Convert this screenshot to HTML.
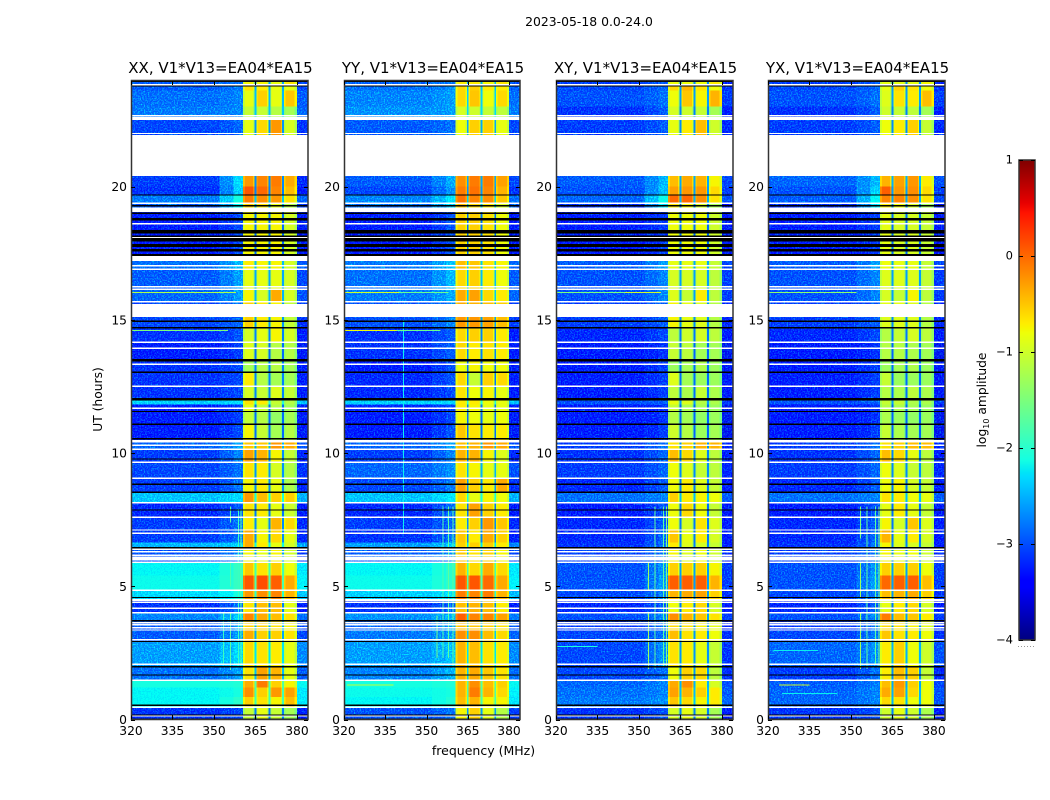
<!DOCTYPE html>
<html lang="en">
<head>
<meta charset="utf-8">
<title>2023-05-18 0.0-24.0</title>
<style>
html,body{margin:0;padding:0;background:#fff;width:1050px;height:800px;overflow:hidden}
svg{display:block}
text{font-family:"DejaVu Sans","Liberation Sans",sans-serif;fill:#000}
</style>
</head>
<body>
<svg id="figure" xmlns="http://www.w3.org/2000/svg" width="1050" height="800" viewBox="0 0 1050 800">
<defs>
<filter id="speckle" x="0" y="0" width="1" height="1" color-interpolation-filters="sRGB">
<feTurbulence type="fractalNoise" baseFrequency="0.7" numOctaves="2" seed="4" result="n"/>
<feColorMatrix in="n" type="matrix" values="0 0 0 0 0 1.3 0 0 0 -0.55 0 0 0 0 0 0 0 0 0 1" result="g"/>
<feComposite in="SourceGraphic" in2="g" operator="arithmetic" k1="0" k2="1" k3="1" k4="0"/>
</filter>
</defs>
<rect x="0" y="0" width="1050" height="800" fill="#fff"/>
<text x="589" y="26" font-size="12.4" text-anchor="middle">2023-05-18 0.0-24.0</text>
<text transform="translate(102,399.5) rotate(-90)" font-size="12.3" text-anchor="middle">UT (hours)</text>
<text x="483.5" y="755" font-size="12.5" text-anchor="middle">frequency (MHz)</text>
<text transform="translate(986,400) rotate(-90)" font-size="12.3" text-anchor="middle">log<tspan font-size="8" dy="3">10</tspan><tspan dy="-3"> amplitude</tspan></text>
<g id="panels"></g>
<g id="colorbar"></g>
</svg>
<script>
// ---- chart data -------------------------------------------------------
const panelTitles = ["XX, V1*V13=EA04*EA15", "YY, V1*V13=EA04*EA15", "XY, V1*V13=EA04*EA15", "YX, V1*V13=EA04*EA15"];
const freqTicks = [320, 335, 350, 365, 380];
const utTicks = [0, 5, 10, 15, 20];
const colorbarTicks = [1, 0, -1, -2, -3, -4];
const colorbarLabels = ["1", "0", "\u22121", "\u22122", "\u22123", "\u22124"];

// time-block boundaries (UT hours)
const utEdges = [0,0.47,0.85,1.2,1.47,1.98,2.93,3.36,3.71,4.0,4.5,4.85,5.4,5.9,6.45,6.65,7.1,7.6,8.13,8.53,9.05,9.65,10.14,10.48,11.08,11.56,11.83,12.06,12.5,13.03,13.45,14.16,14.7,15.1,15.68,16.14,16.9,17.39,19.04,19.37,19.68,20.0,20.4,21.93,22.5,23.0,23.6,23.82,24];
// sub-band edges (MHz): background, near-band, four receiver sub-bands, upper edge
const subBandEdges = [360.5, 365, 370, 375, 380];
const notchFreqs = [365, 370, 375];

// per block log10 amplitude: [background, near-band, sub-band 1, 2, 3, 4]
const levelsXX = [
[-3.0,-2.9,-1.2,-1.0,-1.2,-1.4],[-2.1,-1.9,-0.7,-0.8,-0.9,-0.6],[-2.1,-2.0,-0.35,-0.7,-0.4,-0.45],[-2.0,-1.95,-0.5,-0.25,-0.7,-0.9],
[-2.7,-2.5,-0.8,-0.45,-0.55,-1.0],[-2.5,-2.25,-0.75,-0.8,-0.85,-1.0],[-2.8,-2.5,-0.5,-0.7,-0.7,-0.8],[-2.8,-2.5,-0.7,-0.7,-0.8,-0.9],
[-2.6,-2.3,-0.3,-0.5,-0.6,-0.8],[-3.0,-2.7,-0.8,-0.6,-0.6,-1.0],[-2.25,-2.0,-0.4,-0.35,-0.3,-0.55],[-2.05,-1.85,-0.05,0.0,-0.1,-0.5],
[-2.1,-1.85,-0.65,-0.8,-0.7,-0.95],[-2.85,-2.6,-0.9,-1.0,-0.9,-1.1],[-2.4,-2.3,-0.5,-0.85,-1.0,-1.1],[-2.95,-2.7,-0.5,-0.9,-0.75,-1.0],
[-2.95,-2.7,-0.85,-1.0,-0.55,-0.75],[-3.05,-2.8,-0.8,-0.85,-1.0,-1.15],[-2.35,-2.25,-0.4,-0.6,-0.7,-0.7],[-2.95,-2.7,-0.9,-0.85,-1.0,-1.35],
[-2.9,-2.7,-0.8,-0.85,-1.1,-1.3],[-2.95,-2.6,-0.45,-0.55,-0.9,-1.2],[-2.75,-2.5,-0.65,-0.65,-0.4,-0.5],[-3.1,-2.9,-0.9,-1.2,-1.4,-1.3],
[-3.1,-2.95,-1.2,-1.3,-1.5,-1.4],[-3.1,-2.95,-1.0,-1.2,-1.3,-1.4],[-2.3,-2.25,-0.8,-0.85,-1.2,-1.3],[-3.0,-2.9,-1.1,-1.2,-1.05,-1.2],
[-3.0,-2.9,-0.85,-1.3,-1.4,-1.4],[-3.0,-2.9,-1.4,-1.3,-1.3,-1.4],[-3.1,-2.95,-1.05,-1.1,-1.3,-1.3],[-3.0,-2.85,-1.1,-1.0,-0.9,-1.1],
[-2.9,-2.75,-0.7,-0.85,-0.9,-1.2],[-2.9,-2.7,-0.7,-0.85,-0.9,-1.2],[-2.75,-2.5,-0.9,-1.1,-0.5,-1.1],[-2.8,-2.5,-1.0,-1.0,-1.0,-1.1],
[-2.7,-2.4,-0.85,-0.9,-0.9,-1.1],[-3.1,-2.9,-0.9,-0.9,-0.9,-1.1],[-2.8,-2.1,-0.7,-0.8,-1.0,-1.3],[-2.65,-2.0,-0.25,-0.35,-0.4,-0.8],
[-3.0,-2.3,-0.05,-0.15,-0.3,-0.6],[-2.95,-2.25,-0.4,-0.3,-0.25,-0.5],[-2.95,-2.3,-0.5,-0.5,-0.5,-0.7],[-2.9,-2.75,-1.0,-0.75,-0.4,-1.1],
[-2.65,-2.6,-1.2,-1.2,-1.3,-1.4],[-2.7,-2.6,-1.0,-0.7,-1.0,-0.65],[-2.8,-2.65,-0.8,-0.85,-1.0,-1.0],[-2.8,-2.7,-0.9,-0.9,-1.0,-0.8]
];
const levelsYY = [
[-2.85,-2.7,-0.9,-0.7,-1.0,-1.3],[-2.1,-1.95,-0.6,-0.55,-0.9,-0.9],[-2.05,-2.0,-0.55,-0.25,-0.55,-0.75],[-2.0,-1.95,-0.55,-0.35,-0.6,-0.7],
[-2.6,-2.4,-0.55,-0.5,-0.65,-0.8],[-2.5,-2.35,-0.55,-0.6,-0.8,-0.85],[-2.65,-2.5,-0.35,-0.35,-0.6,-0.75],[-2.75,-2.5,-0.6,-0.65,-0.7,-0.8],
[-2.55,-2.4,-0.1,-0.3,-0.3,-0.45],[-3.0,-2.75,-0.6,-0.55,-0.6,-0.85],[-2.3,-2.2,-0.25,-0.3,-0.25,-0.55],[-2.05,-1.9,-0.05,-0.05,-0.15,-0.5],
[-2.1,-1.9,-0.55,-0.75,-0.5,-0.75],[-2.8,-2.6,-0.65,-0.8,-0.7,-0.9],[-2.5,-2.35,-0.7,-0.7,-0.7,-0.85],[-3.0,-2.7,-0.65,-0.85,-0.5,-0.7],
[-2.95,-2.75,-0.85,-0.7,-0.4,-0.65],[-3.05,-2.7,-0.8,-0.45,-0.7,-0.85],[-2.35,-2.2,-0.75,-1.0,-0.9,-0.95],[-2.9,-2.65,-0.45,-0.7,-0.85,-0.5],
[-2.75,-2.55,-0.8,-0.9,-1.0,-1.0],[-2.95,-2.6,-0.55,-0.55,-0.9,-1.05],[-2.75,-2.5,-0.6,-0.55,-0.4,-0.5],[-3.1,-2.85,-0.65,-0.8,-0.85,-0.85],
[-3.1,-2.9,-0.9,-0.95,-1.0,-0.95],[-3.05,-2.9,-0.85,-0.9,-1.0,-1.0],[-2.3,-2.25,-0.85,-0.85,-0.95,-1.0],[-3.05,-2.9,-0.8,-0.95,-0.9,-1.0],
[-3.05,-2.85,-0.75,-1.2,-0.7,-0.75],[-3.1,-2.85,-0.95,-0.9,-0.95,-0.95],[-3.0,-2.8,-0.75,-0.85,-0.8,-0.85],[-3.0,-2.8,-0.75,-0.7,-0.7,-0.85],
[-2.85,-2.6,-0.4,-0.4,-0.45,-0.6],[-2.85,-2.6,-0.5,-0.55,-0.6,-0.7],[-2.65,-2.45,-0.5,-0.45,-0.75,-0.85],[-2.7,-2.4,-0.75,-0.7,-0.85,-0.95],
[-2.65,-2.35,-0.6,-0.65,-0.8,-0.9],[-3.1,-2.85,-0.7,-0.7,-0.8,-0.95],[-2.7,-2.3,-0.6,-0.75,-0.85,-1.1],[-2.6,-2.2,-0.2,-0.3,-0.35,-0.65],
[-2.9,-2.55,-0.25,-0.2,-0.3,-0.55],[-2.8,-2.45,-0.35,-0.25,-0.25,-0.45],[-2.9,-2.5,-0.5,-0.5,-0.5,-0.7],[-2.8,-2.7,-0.95,-0.7,-0.7,-1.0],
[-2.55,-2.5,-1.1,-1.15,-1.2,-1.25],[-2.6,-2.5,-0.75,-0.65,-0.95,-0.75],[-2.7,-2.55,-0.75,-0.7,-0.85,-0.85],[-2.75,-2.65,-0.85,-0.85,-0.9,-0.8]
];
const levelsXY = [
[-3.0,-2.85,-1.1,-1.0,-1.1,-1.4],[-2.65,-2.55,-0.65,-0.75,-0.9,-0.85],[-2.7,-2.6,-0.45,-0.55,-0.7,-0.85],[-2.75,-2.6,-0.5,-0.35,-0.85,-1.1],
[-2.9,-2.7,-0.95,-0.7,-0.75,-1.25],[-2.9,-2.55,-0.8,-0.85,-1.0,-1.2],[-2.9,-2.7,-0.6,-0.8,-0.85,-0.95],[-2.95,-2.7,-0.75,-0.8,-0.9,-1.0],
[-2.85,-2.6,-0.35,-0.55,-0.65,-0.8],[-3.05,-2.8,-0.95,-0.85,-0.75,-1.1],[-2.9,-2.6,-0.55,-0.5,-0.45,-0.7],[-2.85,-2.5,-0.1,-0.1,-0.1,-0.55],
[-2.85,-2.55,-0.7,-0.7,-0.7,-0.9],[-2.95,-2.7,-0.9,-1.05,-0.95,-1.15],[-3.0,-2.7,-0.85,-1.05,-1.1,-1.2],[-3.05,-2.75,-0.65,-1.0,-0.85,-1.1],
[-3.05,-2.8,-0.95,-1.1,-0.8,-1.05],[-3.1,-2.85,-0.95,-0.75,-0.95,-1.2],[-2.7,-2.6,-0.7,-0.85,-0.9,-0.95],[-3.05,-2.8,-0.95,-0.85,-1.05,-1.2],
[-2.95,-2.75,-0.95,-1.05,-1.2,-1.25],[-3.0,-2.75,-0.6,-0.75,-1.05,-1.25],[-2.95,-2.7,-0.8,-0.7,-0.55,-0.55],[-3.15,-2.95,-1.15,-1.3,-1.45,-1.4],
[-3.15,-3.0,-1.3,-1.4,-1.5,-1.45],[-3.15,-3.0,-1.2,-1.35,-1.4,-1.45],[-2.85,-2.8,-1.0,-1.05,-1.3,-1.35],[-3.1,-2.95,-1.25,-1.35,-1.2,-1.35],
[-3.1,-2.95,-1.05,-1.4,-1.45,-1.45],[-3.1,-2.95,-1.45,-1.4,-1.35,-1.45],[-3.15,-3.0,-1.2,-1.25,-1.4,-1.4],[-3.05,-2.9,-1.25,-1.15,-1.1,-1.25],
[-2.95,-2.8,-0.9,-1.0,-1.05,-1.3],[-2.95,-2.8,-0.9,-1.0,-1.05,-1.3],[-2.85,-2.6,-1.05,-1.2,-0.85,-1.25],[-2.85,-2.6,-1.1,-1.1,-1.1,-1.25],
[-2.8,-2.5,-1.0,-1.0,-1.0,-1.2],[-3.1,-2.95,-0.95,-0.95,-0.95,-1.15],[-3.0,-2.2,-0.8,-0.9,-1.1,-1.4],[-2.75,-2.05,-0.15,-0.15,-0.35,-0.8],
[-2.85,-2.35,-0.45,-0.4,-0.4,-0.75],[-2.8,-2.4,-0.6,-0.5,-0.55,-0.9],[-2.9,-2.5,-0.7,-0.6,-0.6,-0.9],[-2.95,-2.8,-1.0,-0.85,-0.6,-1.15],
[-3.0,-2.8,-1.1,-1.15,-1.2,-1.4],[-2.85,-2.7,-0.95,-0.65,-0.9,-0.55],[-2.9,-2.75,-0.75,-0.55,-0.8,-0.95],[-2.95,-2.8,-0.95,-0.95,-0.95,-0.85]
];
const levelsYX = [
[-3.0,-2.85,-1.15,-1.0,-1.15,-1.35],[-2.75,-2.6,-0.75,-0.8,-0.95,-0.95],[-2.75,-2.6,-0.5,-0.45,-0.75,-0.95],[-2.8,-2.65,-0.6,-0.4,-0.7,-0.95],
[-2.95,-2.7,-0.85,-0.6,-0.7,-1.2],[-2.75,-2.55,-0.85,-0.7,-0.95,-1.15],[-2.9,-2.65,-0.65,-0.8,-0.85,-0.95],[-2.95,-2.7,-0.75,-0.8,-0.9,-1.0],
[-2.85,-2.6,-0.25,-0.6,-0.65,-0.85],[-3.05,-2.8,-1.0,-0.85,-0.75,-1.1],[-2.9,-2.65,-0.6,-0.55,-0.5,-0.7],[-2.85,-2.5,-0.15,-0.1,-0.1,-0.6],
[-2.85,-2.55,-0.7,-0.7,-0.7,-0.95],[-2.95,-2.7,-0.9,-1.0,-0.95,-1.15],[-3.0,-2.7,-0.9,-1.05,-1.1,-1.2],[-3.05,-2.75,-0.55,-1.0,-0.85,-1.1],
[-3.05,-2.8,-0.9,-1.1,-0.65,-1.05],[-3.1,-2.85,-1.0,-0.85,-1.0,-1.2],[-2.7,-2.6,-0.8,-0.85,-0.95,-1.0],[-3.05,-2.8,-0.95,-0.9,-1.1,-1.2],
[-2.95,-2.75,-0.95,-1.05,-1.2,-1.25],[-3.0,-2.75,-0.6,-0.75,-1.0,-1.25],[-2.95,-2.7,-0.8,-0.7,-0.6,-0.6],[-3.15,-2.95,-1.2,-1.35,-1.4,-1.4],
[-3.15,-3.0,-1.35,-1.45,-1.5,-1.45],[-3.15,-3.0,-1.3,-1.35,-1.4,-1.45],[-2.85,-2.8,-1.2,-1.2,-1.35,-1.35],[-3.1,-2.95,-1.3,-1.35,-1.25,-1.35],
[-3.1,-2.95,-1.2,-1.45,-1.45,-1.45],[-3.1,-2.95,-1.45,-1.4,-1.35,-1.45],[-3.15,-3.0,-1.3,-1.3,-1.35,-1.4],[-3.05,-2.9,-1.3,-1.2,-1.1,-1.25],
[-2.95,-2.8,-1.05,-1.05,-1.05,-1.3],[-2.95,-2.8,-1.0,-1.0,-1.05,-1.3],[-2.85,-2.6,-1.1,-1.2,-0.9,-1.25],[-2.85,-2.6,-1.05,-1.05,-1.05,-1.2],
[-2.8,-2.5,-0.95,-1.0,-1.0,-1.2],[-3.1,-2.95,-1.0,-1.1,-1.1,-1.2],[-3.0,-2.2,-0.85,-0.95,-1.1,-1.4],[-2.8,-2.1,-0.3,-0.3,-0.35,-0.8],
[-2.85,-2.3,-0.1,-0.4,-0.35,-0.75],[-2.75,-2.4,-0.55,-0.45,-0.4,-0.85],[-2.9,-2.5,-0.7,-0.6,-0.6,-0.9],[-2.95,-2.8,-0.95,-0.85,-0.7,-1.2],
[-3.0,-2.8,-1.15,-1.2,-1.25,-1.4],[-2.85,-2.7,-1.05,-0.8,-0.85,-0.6],[-2.9,-2.75,-1.0,-0.7,-0.8,-0.95],[-2.95,-2.8,-1.0,-1.0,-1.0,-0.9]
];
const panelLevels = [levelsXX, levelsYY, levelsXY, levelsYX];

// flagged samples, UT hours
const whiteWideUT = [[20.4,21.93],[15.11,15.59],[19.04,19.21],[17.2,17.39],[10.39,10.48],[5.96,6.11],[4.45,4.53]];
const whiteLineUT = [23.82,22.65,22.58,22.52,21.99,19.37,18.6,18.1,17.02,16.89,16.24,16.14,15.68,14.15,13.93,13.33,12.51,11.68,10.29,10.14,9.65,9.05,8.13,7.59,7.11,6.99,6.39,6.29,6.17,5.9,4.85,4.4,4.17,4.0,3.63,3.55,3.44,3.36,2.99,2.07,1.47,0.46,0.13];
const blackBandUT = [[23.92,24],[18.97,19.02],[18.72,18.81],[18.24,18.37],[18.1,18.16],[17.93,18.06],[17.74,17.84],[17.56,17.65],[17.39,17.47],[13.43,13.52],[11.98,12.06],[0.5,0.56],[0,0.04]];
const blackLineUT = [23.77,19.68,19.28,14.95,14.7,13.03,11.56,11.08,10.54,9.78,8.83,8.53,7.86,6.45,4.58,3.71,2.93,1.98,1.67,0.17];

// narrow-band interference: [panel, MHz, UT start, UT end, level]
const rfiColumns = [
[0,355.8,1.85,4.0,-1.7],[0,355.8,5.0,5.9,-1.8],[0,355.8,7.4,8.0,-1.7],[0,353.3,2.1,4.0,-1.9],[0,358.6,2.0,7.9,-1.9],[0,359.6,2.0,7.9,-1.7],
[1,355.9,2.3,8.0,-1.8],[1,353.6,2.3,3.9,-1.6],[1,357.9,2.3,8.0,-1.7],[1,359.4,2.0,8.0,-1.7],[1,341.5,7.0,15.0,-2.2],
[2,353.2,1.9,4.0,-1.3],[2,353.2,4.85,5.9,-1.3],[2,355.7,1.9,8.0,-1.7],[2,358.6,2.0,8.0,-1.7],[2,359.7,2.0,8.0,-1.5],
[3,353.2,1.9,4.0,-1.3],[3,353.2,4.6,5.9,-1.3],[3,353.2,6.8,8.0,-1.5],[3,355.7,1.9,8.0,-1.7],[3,358.7,2.1,8.0,-1.7],[3,360.0,2.0,8.0,-1.5]
];
// broadband rows: [panel, UT, MHz start, MHz end, level]
const rfiRows = [
[0,14.62,320,355,-1.5],[0,16.05,320,358,-1.2],[1,14.62,320,339,-0.8],[1,14.62,339,355,-1.6],[1,16.05,320,340,-1.0],[1,16.05,340,358,-1.6],
[1,1.32,321,338,-1.1],[2,16.05,320,345,-1.5],[2,16.05,345,358,-1.0],[2,2.75,320,335,-2.1],[3,16.05,320,352,-1.4],[3,1.32,324,335,-1.0],[3,1.0,325,345,-2.2],[3,2.6,322,338,-2.2]
];

// ---- axis geometry and scales ------------------------------------------
const panelLefts = [131, 344, 556, 768];
const panelWidths = [177, 176, 177, 177];
const axisTop = 81, axisBottom = 719.5;
const freqMin = 320, freqMax = 384, utMin = 0, utMax = 23.96;
const colorMin = -4, colorMax = 1;
const bandCalibration = 0.15;
const SVGNS = "http://www.w3.org/2000/svg";
const panelsRoot = document.getElementById("panels");

function backgroundLevel(level) { return level - 0.27 + Math.max(0, level + 2.6) * 0.25; }
function xScale(p, f) { return panelLefts[p] + (f - freqMin) / (freqMax - freqMin) * panelWidths[p]; }
function yScale(ut) { return axisBottom - (Math.min(ut, utMax) - utMin) / (utMax - utMin) * (axisBottom - axisTop); }
function channel(v, pts) {
  for (let i = 1; i < pts.length; i++) {
    if (v <= pts[i][0]) {
      const t = (v - pts[i-1][0]) / (pts[i][0] - pts[i-1][0]);
      return pts[i-1][1] + t * (pts[i][1] - pts[i-1][1]);
    }
  }
  return pts[pts.length-1][1];
}
const jetR = [[0,0],[0.35,0],[0.66,1],[0.89,1],[1,0.5]];
const jetG = [[0,0],[0.125,0],[0.375,1],[0.64,1],[0.91,0],[1,0]];
const jetB = [[0,0.5],[0.11,1],[0.34,1],[0.65,0],[1,0]];
function colorOf(level) {
  const v = Math.max(0, Math.min(1, (level - colorMin) / (colorMax - colorMin)));
  return "rgb(" + Math.round(255*channel(v,jetR)) + "," + Math.round(255*channel(v,jetG)) + "," + Math.round(255*channel(v,jetB)) + ")";
}
function addRect(parent, x, y, w, h, fill) {
  const r = document.createElementNS(SVGNS, "rect");
  r.setAttribute("x", x.toFixed(2));
  r.setAttribute("y", y.toFixed(2));
  r.setAttribute("width", Math.max(w, 0.5).toFixed(2));
  r.setAttribute("height", Math.max(h, 0.5).toFixed(2));
  r.setAttribute("fill", fill);
  parent.appendChild(r);
  return r;
}
function addLine(parent, x1, y1, x2, y2, stroke) {
  const l = document.createElementNS(SVGNS, "line");
  l.setAttribute("x1", x1); l.setAttribute("y1", y1);
  l.setAttribute("x2", x2); l.setAttribute("y2", y2);
  l.setAttribute("stroke", stroke);
  l.setAttribute("stroke-width", "1");
  parent.appendChild(l);
  return l;
}
function addText(parent, x, y, str, size, anchor) {
  const t = document.createElementNS(SVGNS, "text");
  t.setAttribute("x", x); t.setAttribute("y", y);
  t.setAttribute("font-size", size);
  t.setAttribute("text-anchor", anchor);
  t.textContent = str;
  parent.appendChild(t);
  return t;
}
function addGroup(parent) {
  const g = document.createElementNS(SVGNS, "g");
  parent.appendChild(g);
  return g;
}

// ---- panels ------------------------------------------------------------
panelTitles.forEach(function (title, p) {
  const panel = addGroup(panelsRoot);
  
  

  const bgGroup = addGroup(panel);
  
  
  bgGroup.setAttribute("filter", "url(#speckle)");
  bgGroup.setAttribute("shape-rendering", "crispEdges");

  const bandGroup = addGroup(panel);
  
  
  bandGroup.setAttribute("shape-rendering", "crispEdges");

  const levels = panelLevels[p];
  levels.forEach(function (row, b) {
    const yTop = yScale(utEdges[b + 1]);
    const h = yScale(utEdges[b]) - yTop;
    const bg = backgroundLevel(row[0]), near = backgroundLevel(row[1]);
    // background columns
    const bgCols = [[freqMin, 352, bg], [352, 357, (bg + near) / 2], [357, subBandEdges[0], near], [380, freqMax, bg - 0.1]];
    bgCols.forEach(function (c) {
      const x0 = xScale(p, c[0]);
      const cell = addRect(bgGroup, x0, yTop, xScale(p, c[1]) - x0, h, colorOf(c[2]));
      
      
    });
    // receiver sub-bands: dimmer shoulders and a brighter core
    for (let s = 0; s < 4; s++) {
      const f0 = subBandEdges[s], f1 = subBandEdges[s + 1], lvl = row[s + 2] + bandCalibration;
      const parts = [[f0, f0 + 0.8, lvl - 0.2], [f0 + 0.8, f1 - 0.8, lvl], [f1 - 0.8, f1, lvl - 0.25]];
      parts.forEach(function (c) {
        const x0 = xScale(p, c[0]);
        const cell = addRect(bandGroup, x0, yTop, xScale(p, c[1]) - x0, h, colorOf(c[2]));
        
        
      });
    }
    // notches between sub-bands
    notchFreqs.forEach(function (f) {
      const x0 = xScale(p, f - 0.36);
      const cell = addRect(bandGroup, x0, yTop, xScale(p, f + 0.36) - x0, h, colorOf(row[0] + 0.25));
      
      
    });
  });

  const rfiGroup = addGroup(panel);
  
  
  rfiGroup.setAttribute("shape-rendering", "crispEdges");
  rfiColumns.filter(function (c) { return c[0] === p; }).forEach(function (c) {
    const yTop = yScale(c[3]);
    const mark = addRect(rfiGroup, xScale(p, c[1]), yTop, 1, yScale(c[2]) - yTop, colorOf(c[4]));
    
    
  });
  rfiRows.filter(function (c) { return c[0] === p; }).forEach(function (c) {
    const x0 = xScale(p, c[2]);
    const mark = addRect(rfiGroup, x0, yScale(c[1]), xScale(p, c[3]) - x0, 1, colorOf(c[4]));
    
    
  });

  const flagGroup = addGroup(panel);
  
  
  flagGroup.setAttribute("shape-rendering", "crispEdges");
  const left = panelLefts[p], width = panelWidths[p];
  whiteWideUT.forEach(function (s) {
    const y0 = yScale(s[1]);
    const mark = addRect(flagGroup, left, y0, width, yScale(s[0]) - y0, "#fff");
    
    
  });
  whiteLineUT.forEach(function (ut) {
    const mark = addRect(flagGroup, left, yScale(ut) - 0.7, width, 1.4, "#fff");
    
    
  });
  blackBandUT.forEach(function (s) {
    const y0 = yScale(s[1]);
    const mark = addRect(flagGroup, left, y0, width, yScale(s[0]) - y0, "#000");
    
    
  });
  blackLineUT.forEach(function (ut) {
    const mark = addRect(flagGroup, left, yScale(ut) - 0.6, width, 1.25, "#000");
    
    
  });

  // frame
  const frame = addRect(panel, left + 0.5, axisTop - 0.5, width - 0.5, axisBottom - axisTop + 0.5, "none");
  frame.setAttribute("stroke", "#333");
  frame.setAttribute("stroke-width", "1.5");
  
  

  // x ticks
  freqTicks.forEach(function (f) {
    const x = Math.round(xScale(p, f)) + 0.5;
    const tb = addLine(panel, x, axisBottom, x, axisBottom - 4, "#000");
    
    
    const tt = addLine(panel, x, axisTop, x, axisTop + 4, "#000");
    
    
    const label = addText(panel, xScale(p, f), 735, String(f), 12.3, "middle");
    
    
  });
  // y ticks
  utTicks.forEach(function (ut) {
    const y = Math.round(yScale(ut)) + 0.5;
    const tl = addLine(panel, left, y, left + 4, y, "#000");
    
    
    const tr = addLine(panel, left + width, y, left + width - 4, y, "#000");
    
    
    const label = addText(panel, left - 4, yScale(ut) + 4.5, String(ut), 12.3, "end");
    
    
  });
  const titleEl = addText(panel, left + width / 2 + 1, 73, title, 15, "middle");
  
  
});

// ---- colorbar ----------------------------------------------------------
const cbRoot = document.getElementById("colorbar");
const cbLeft = 1019, cbWidth = 16, cbTop = 160, cbBottom = 640;
function cbScale(level) { return cbBottom - (level - colorMin) / (colorMax - colorMin) * (cbBottom - cbTop); }
const cbSwatches = addGroup(cbRoot);


cbSwatches.setAttribute("shape-rendering", "crispEdges");
for (let y = cbTop; y < cbBottom; y++) {
  const level = colorMax - (y - cbTop + 0.5) / (cbBottom - cbTop) * (colorMax - colorMin);
  addRect(cbSwatches, cbLeft, y, cbWidth, 1, colorOf(level));
}
const cbFrame = addRect(cbRoot, cbLeft, cbTop, cbWidth, cbBottom - cbTop, "none");
cbFrame.setAttribute("stroke", "#333");
cbFrame.setAttribute("stroke-width", "1.5");


colorbarTicks.forEach(function (lvl, i) {
  const y = Math.round(cbScale(lvl)) + 0.5;
  const a = addLine(cbRoot, cbLeft, y, cbLeft + 4, y, "#000");
  
  
  const b = addLine(cbRoot, cbLeft + cbWidth - 4, y, cbLeft + cbWidth, y, "#000");
  
  
  const label = addText(cbRoot, 1013, cbScale(lvl) + 3.5, colorbarLabels[i], 11.5, "end");
  
  
});
const cbDots = addLine(cbRoot, 1018, 646.5, 1035, 646.5, "#999");
cbDots.setAttribute("stroke-dasharray", "1 2");


</script>
</body>
</html>
